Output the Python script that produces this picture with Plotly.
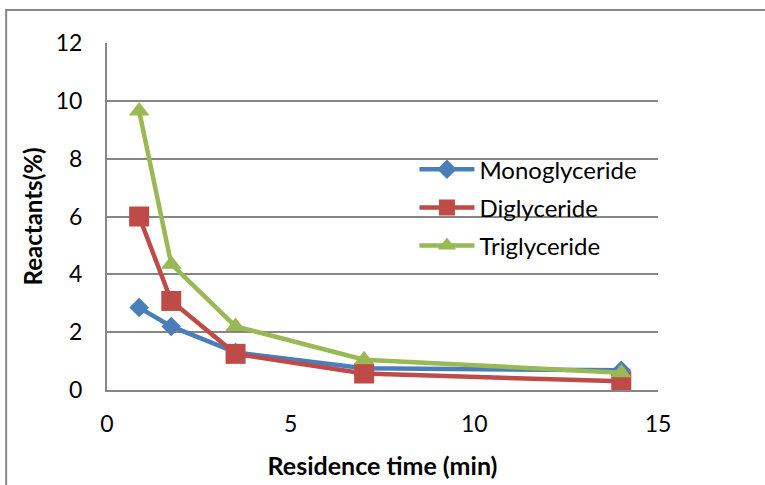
import plotly.graph_objects as go

# Residence time (min) and reactant content (%)
residence_time = [0.875, 1.75, 3.5, 7.0, 14.0]
monoglyceride = [2.85, 2.2, 1.3, 0.75, 0.68]
diglyceride = [6.0, 3.08, 1.25, 0.57, 0.3]
triglyceride = [9.65, 4.35, 2.2, 1.05, 0.6]

series = [
    ("Monoglyceride", monoglyceride, "#4A7EBB", "diamond", 15),
    ("Diglyceride", diglyceride, "#BE4B48", "square", 20),
    ("Triglyceride", triglyceride, "#98B954", "triangle-up", 18),
]

fig = go.Figure()
for name, values, color, symbol, size in series:
    fig.add_trace(go.Scatter(
        x=residence_time, y=values, name=name, mode="lines+markers",
        legendgroup=name,
        line=dict(color=color, width=4.5),
        marker=dict(symbol=symbol, size=size, color=color),
    ))

font_family = "Lato, 'Open Sans', sans-serif"
grid_color = "#868686"

fig.update_layout(
    width=765, height=485,
    margin=dict(l=107, r=107, t=43, b=95),
    paper_bgcolor="white", plot_bgcolor="white",
    font=dict(family=font_family, size=23, color="#000000"),
    showlegend=True,
    legend=dict(
        x=0.558, y=0.70, xanchor="left", yanchor="top",
        bgcolor="rgba(0,0,0,0)", font=dict(size=24),
        tracegroupgap=4, itemwidth=55,
    ),
    xaxis=dict(
        range=[0, 15], tickvals=[0, 5, 10, 15],
        showgrid=False, zeroline=False, automargin=False,
        showline=True, linecolor=grid_color, linewidth=2,
        ticks="", ticklabelstandoff=12,
        title=dict(text="<b>Residence time (min)</b>", standoff=22,
                   font=dict(size=25)),
    ),
    yaxis=dict(
        range=[0, 12], tickvals=[0, 2, 4, 6, 8, 10, 12],
        showgrid=True, gridcolor=grid_color, gridwidth=2,
        zeroline=False, automargin=False,
        showline=True, linecolor=grid_color, linewidth=2,
        ticks="", ticklabelstandoff=18,
        title=dict(text="<b>Reactants(%)</b>", standoff=6,
                   font=dict(size=24)),
    ),
    shapes=[dict(
        type="rect", xref="paper", yref="paper",
        x0=-0.183, x1=1.2, y0=-0.35, y1=1.095,
        line=dict(color=grid_color, width=2), fillcolor="rgba(0,0,0,0)",
        layer="below",
    )],
)

fig.write_html("out.html")
